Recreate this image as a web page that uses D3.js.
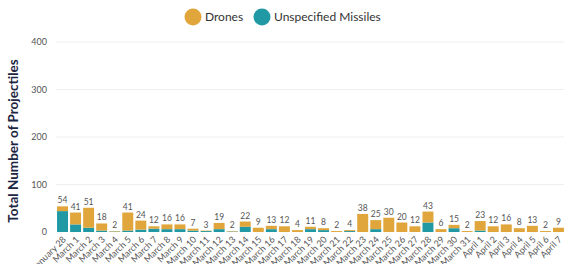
<!DOCTYPE html>
<html lang="en">
<head>
<meta charset="UTF-8">
<script src="https://d3js.org/d3.v7.min.js"></script>
<style>
    body { margin: 0; padding: 0; background: #fff; overflow: hidden; }
    svg { font-family: Lato, "Noto Sans", sans-serif; }
    .grid line { stroke: #eeeeee; }
    .tick-label { font-size: 9px; fill: #555; }
    .val { font-size: 8.5px; fill: #555; text-anchor: middle; }
</style>
</head>
<body>
<div id="chart"></div>
<script>
    // data
    const dates = ["January 28", "March 1", "March 2", "March 3", "March 4", "March 5", "March 6", "March 7",
        "March 8", "March 9", "March 10", "March 11", "March 12", "March 13", "March 14", "March 15",
        "March 16", "March 17", "March 18", "March 19", "March 20", "March 21", "March 22", "March 23",
        "March 24", "March 25", "March 26", "March 27", "March 28", "March 29", "March 30", "March 31",
        "April 1", "April 2", "April 3", "April 4", "April 5", "April 6", "April 7"];
    const totals = [54, 41, 51, 18, 2, 41, 24, 12, 16, 16, 7, 3, 19, 2, 22, 9, 13, 12, 4, 11, 8, 2, 4, 38,
        25, 30, 20, 12, 43, 6, 15, 2, 23, 12, 16, 8, 13, 2, 9];
    const missiles = [44, 16, 9, 3, 1, 3, 5, 7, 6, 6, 3, 2, 6, 1, 11, 0, 6, 0, 0, 6, 4, 0, 2, 0,
        6, 0, 0, 0, 20, 0, 8, 0, 3, 0, 0, 0, 0, 0, 0];
    const drones = totals.map((t, i) => t - missiles[i]);
    const yTicks = [0, 100, 200, 300, 400];

    const colors = { missiles: "#2199a5", drones: "#e0a63c" };

    const W = 564, H = 264;
    const margin = { top: 42, right: 0, bottom: 32, left: 56 };
    const width = W - margin.left - margin.right;
    const height = H - margin.top - margin.bottom;

    const svg = d3.select("#chart").append("svg")
        .attr("width", W).attr("height", H);

    const g = svg.append("g")
        .attr("transform", `translate(${margin.left},${margin.top})`);

    const x = d3.scaleBand().domain(dates).range([0, width + 1]).paddingInner(0.16).paddingOuter(0.08);
    const y = d3.scaleLinear().domain([0, 400]).range([height, 0]);

    // gridlines
    g.append("g").attr("class", "grid")
        .selectAll("line").data(yTicks.slice(1)).enter().append("line")
        .attr("x1", 0).attr("x2", width)
        .attr("y1", d => y(d)).attr("y2", d => y(d));

    // y tick labels
    g.selectAll(".ytick").data(yTicks).enter().append("text")
        .attr("class", "tick-label")
        .attr("x", -9).attr("y", d => y(d)).attr("dy", "0.35em")
        .attr("text-anchor", "end")
        .text(d => d);

    // stacked bars
    const rows = dates.map((d, i) => ({ date: d, missiles: missiles[i], drones: drones[i] }));
    const stacked = d3.stack().keys(["missiles", "drones"])(rows);

    g.selectAll(".layer").data(stacked).enter().append("g")
        .attr("fill", d => colors[d.key])
        .selectAll("rect").data(d => d).enter().append("rect")
        .attr("x", d => x(d.data.date))
        .attr("width", x.bandwidth())
        .attr("y", d => y(d[1]))
        .attr("height", d => y(d[0]) - y(d[1]));

    // value labels
    g.selectAll(".val").data(dates).enter().append("text")
        .attr("class", "val")
        .attr("x", d => x(d) + x.bandwidth() / 2)
        .attr("y", (d, i) => y(totals[i]) - 3)
        .text((d, i) => totals[i]);

    // x labels
    g.selectAll(".xlab").data(dates).enter().append("text")
        .attr("class", "tick-label")
        .attr("text-anchor", "end")
        .attr("transform", d => `translate(${x(d) + x.bandwidth() / 2 + 4},${height + 8}) rotate(-45)`)
        .text(d => d);

    // y title
    svg.append("text")
        .attr("transform", `translate(18,${margin.top + height / 2 + 4}) rotate(-90)`)
        .attr("text-anchor", "middle")
        .style("font-size", "13.5px").style("font-weight", "bold").style("fill", "#1c2541")
        .text("Total Number of Projectiles");

    // legend
    const legend = svg.append("g").attr("transform", "translate(193,17)");
    const items = [{ label: "Drones", color: colors.drones, dx: 0 },
                   { label: "Unspecified Missiles", color: colors.missiles, dx: 69 }];
    const li = legend.selectAll("g").data(items).enter().append("g")
        .attr("transform", d => `translate(${d.dx},0)`);
    li.append("circle").attr("r", 8.5).attr("fill", d => d.color);
    li.append("text").attr("x", 12).attr("dy", "0.35em")
        .style("font-size", "12px").style("fill", "#333")
        .text(d => d.label);
</script>
</body>
</html>
